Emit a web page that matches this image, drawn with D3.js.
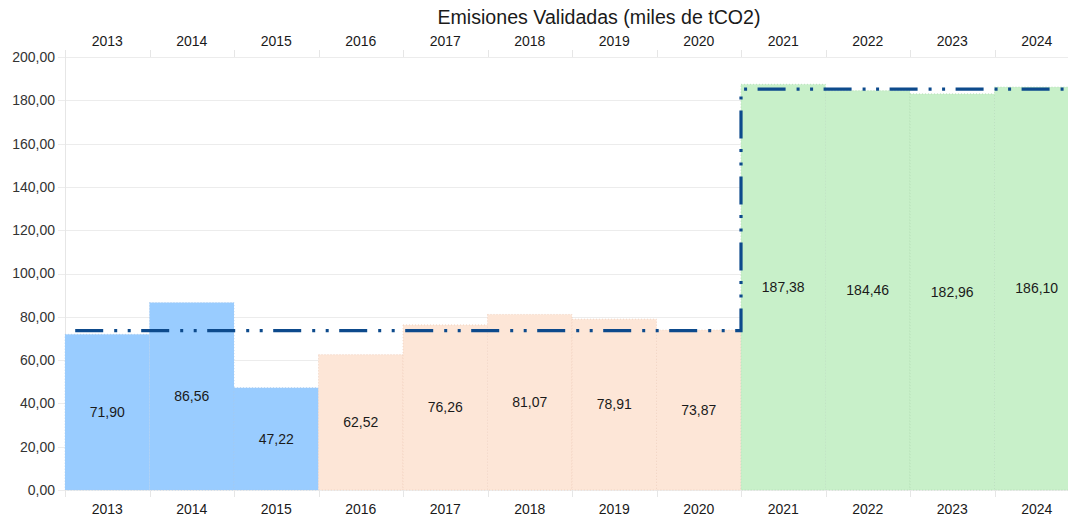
<!DOCTYPE html>
<html>
<head>
<meta charset="utf-8">
<script src="https://cdn.jsdelivr.net/npm/d3@7"></script>
<style>
  body { margin: 0; background: #fff; overflow: hidden; }
  text { font-family: "Liberation Sans", Arial, sans-serif; }
</style>
</head>
<body>
<script>
// data
var years = ['2013', '2014', '2015', '2016', '2017', '2018', '2019', '2020', '2021', '2022', '2023', '2024'];
var emissions = [71.90, 86.56, 47.22, 62.52, 76.26, 81.07, 78.91, 73.87, 187.38, 184.46, 182.96, 186.10];
var periodOf = ['p1', 'p1', 'p1', 'p2', 'p2', 'p2', 'p2', 'p2', 'p3', 'p3', 'p3', 'p3'];
// reference (dash-dot) level per year
var refLevel = [73.6, 73.6, 73.6, 73.6, 73.6, 73.6, 73.6, 73.6, 185.2, 185.2, 185.2, 185.2];
var yTicks = [0, 20, 40, 60, 80, 100, 120, 140, 160, 180, 200];

var colors = { p1: '#99ccff', p2: '#fde6d7', p3: '#c8f0c9' };
var borders = { p1: '#a9c9ea', p2: '#efcfbd', p3: '#b3dcb5' };

//setup graph size
var W = 1068, H = 520;
var margin = {top: 57, left: 65};
var width = 1014, height = 433;

var svg = d3.select('body').append('svg')
    .attr('width', W)
    .attr('height', H);

var g = svg.append('g')
    .attr('transform', 'translate(' + margin.left + ',' + margin.top + ')');

var x = d3.scaleBand().domain(years).range([0, width]).padding(0);
var y = d3.scaleLinear().domain([0, 200]).range([height, 0]);

var fmt = function(v) { return d3.format('.2f')(v).replace('.', ','); };

// title
svg.append('text')
    .attr('x', 599).attr('y', 24)
    .attr('text-anchor', 'middle')
    .style('font-size', '19.6px')
    .style('fill', '#1a1a1a')
    .text('Emisiones Validadas (miles de tCO2)');

// horizontal grid
g.append('g').selectAll('line')
    .data(yTicks)
    .enter().append('line')
    .attr('x1', -7).attr('x2', width)
    .attr('y1', function(d) { return Math.round(y(d)) + 0.5; })
    .attr('y2', function(d) { return Math.round(y(d)) + 0.5; })
    .attr('stroke', '#ececec');

// left axis line
g.append('line')
    .attr('x1', 0.5).attr('x2', 0.5)
    .attr('y1', -7).attr('y2', height + 7)
    .attr('stroke', '#e6e6e6');

// y labels
g.append('g').selectAll('text')
    .data(yTicks)
    .enter().append('text')
    .attr('x', -10)
    .attr('y', function(d) { return y(d); })
    .attr('dy', '0.35em')
    .attr('text-anchor', 'end')
    .style('font-size', '14px')
    .style('fill', '#333')
    .text(fmt);

// bars
g.append('g').selectAll('rect')
    .data(years)
    .enter().append('rect')
    .attr('x', function(d) { return x(d); })
    .attr('y', function(d, i) { return y(emissions[i]); })
    .attr('width', x.bandwidth())
    .attr('height', function(d, i) { return height - y(emissions[i]); })
    .attr('fill', function(d, i) { return colors[periodOf[i]]; })
    .attr('stroke', function(d, i) { return borders[periodOf[i]]; })
    .attr('stroke-width', 0.8)
    .attr('stroke-dasharray', '1,2');

// category boundary ticks (top and bottom)
var bounds = years.map(function(d) { return x(d); }).concat([width]);
g.append('g').selectAll('line')
    .data(bounds)
    .enter().append('line')
    .attr('x1', function(d) { return Math.round(d) + 0.5; })
    .attr('x2', function(d) { return Math.round(d) + 0.5; })
    .attr('y1', height).attr('y2', height + 7)
    .attr('stroke', '#e6e6e6');
g.append('g').selectAll('line')
    .data(bounds)
    .enter().append('line')
    .attr('x1', function(d) { return Math.round(d) + 0.5; })
    .attr('x2', function(d) { return Math.round(d) + 0.5; })
    .attr('y1', -7).attr('y2', 0)
    .attr('stroke', '#e6e6e6');

// year labels top & bottom
[[-11, 'top'], [height + 24, 'bottom']].forEach(function(p) {
    g.append('g').selectAll('text')
        .data(years)
        .enter().append('text')
        .attr('x', function(d) { return x(d) + x.bandwidth() / 2; })
        .attr('y', p[0])
        .attr('text-anchor', 'middle')
        .style('font-size', '14px')
        .style('fill', '#1a1a1a')
        .text(function(d) { return d; });
});

// value labels
g.append('g').selectAll('text')
    .data(years)
    .enter().append('text')
    .attr('x', function(d) { return x(d) + x.bandwidth() / 2; })
    .attr('y', function(d, i) { return (y(emissions[i]) + height) / 2; })
    .attr('dy', '0.35em')
    .attr('text-anchor', 'middle')
    .style('font-size', '14px')
    .style('fill', '#1a1a1a')
    .text(function(d, i) { return fmt(emissions[i]); });

// step reference line
var stepPts = [];
years.forEach(function(d, i) {
    stepPts.push([x(d), y(refLevel[i])]);
    stepPts.push([x(d) + x.bandwidth(), y(refLevel[i])]);
});
g.append('path')
    .datum(stepPts)
    .attr('d', d3.line())
    .attr('fill', 'none')
    .attr('stroke', '#0d4a8c')
    .attr('stroke-width', 3.2)
    .attr('stroke-dasharray', '28,11,3,10.5,3,10.5')
    .attr('stroke-dashoffset', 55.8);
</script>
</body>
</html>
